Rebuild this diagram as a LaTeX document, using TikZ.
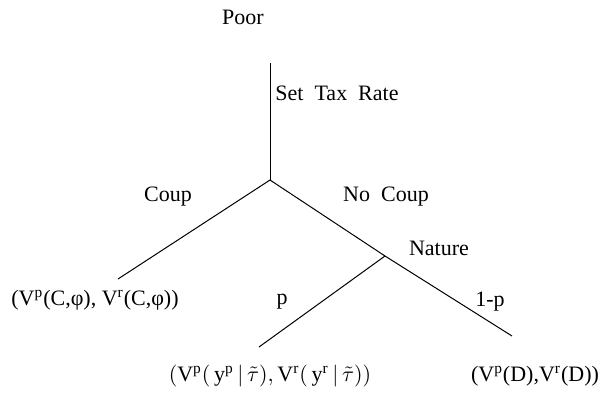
\documentclass[tikz,border=0pt]{standalone}
\usepackage{fontspec}
\setmainfont{Liberation Serif}
\usepackage{tikz}
\usetikzlibrary{calc}
\tikzset{branch/.style={line width=0.5pt},
  lbl/.style={inner sep=0pt, font=\fontsize{11}{13}\selectfont}}

\begin{document}
\begin{tikzpicture} [x=0.5pt,y=-0.5pt]
\useasboundingbox (0,0) rectangle (600,392);
\coordinate (top) at (270,63);
\coordinate (poordec) at (270,180);
\coordinate (coupend) at (118,279);
\coordinate (nature) at (385,256);
\coordinate (pend) at (259,347);
\coordinate (qend) at (512,336);
\node [lbl] (poor) at (243,17) {Poor};
\node [lbl] (tax) at (337,93) {Set~~Tax~~Rate};
\node [lbl] (coup) at (168,197) {Coup};
\node [lbl] (nocoup) at (386,197) {No~~Coup};
\node [lbl] (naturelbl) at (439,248) {Nature};
\node [lbl] (p) at (282,302) {p};
\node [lbl] (q) at (490,302) {1-p};
\node [lbl] (payc) at (95,300) {(V\textsuperscript{p}(C,φ), V\textsuperscript{r}(C,φ))};
\node [lbl] (payp) at (270,376) {$\bigl(\mathrm{V}^{\mathrm{p}}\bigl(\,\mathrm{y}^{\mathrm{p}}\,\bigl|\,\tilde{\tau}\bigr),\mathrm{V}^{\mathrm{r}}\bigl(\,\mathrm{y}^{\mathrm{r}}\,\bigl|\,\tilde{\tau}\bigr)\bigr)$};
\node [lbl] (payd) at (535,376) {(V\textsuperscript{p}(D),V\textsuperscript{r}(D))};
\draw [branch] (top) -- (poordec);
\draw [branch] (poordec) -- (coupend);
\draw [branch] (poordec) -- (nature) -- (qend);
\draw [branch] (nature) -- (pend);
\end{tikzpicture}
\end{document}
